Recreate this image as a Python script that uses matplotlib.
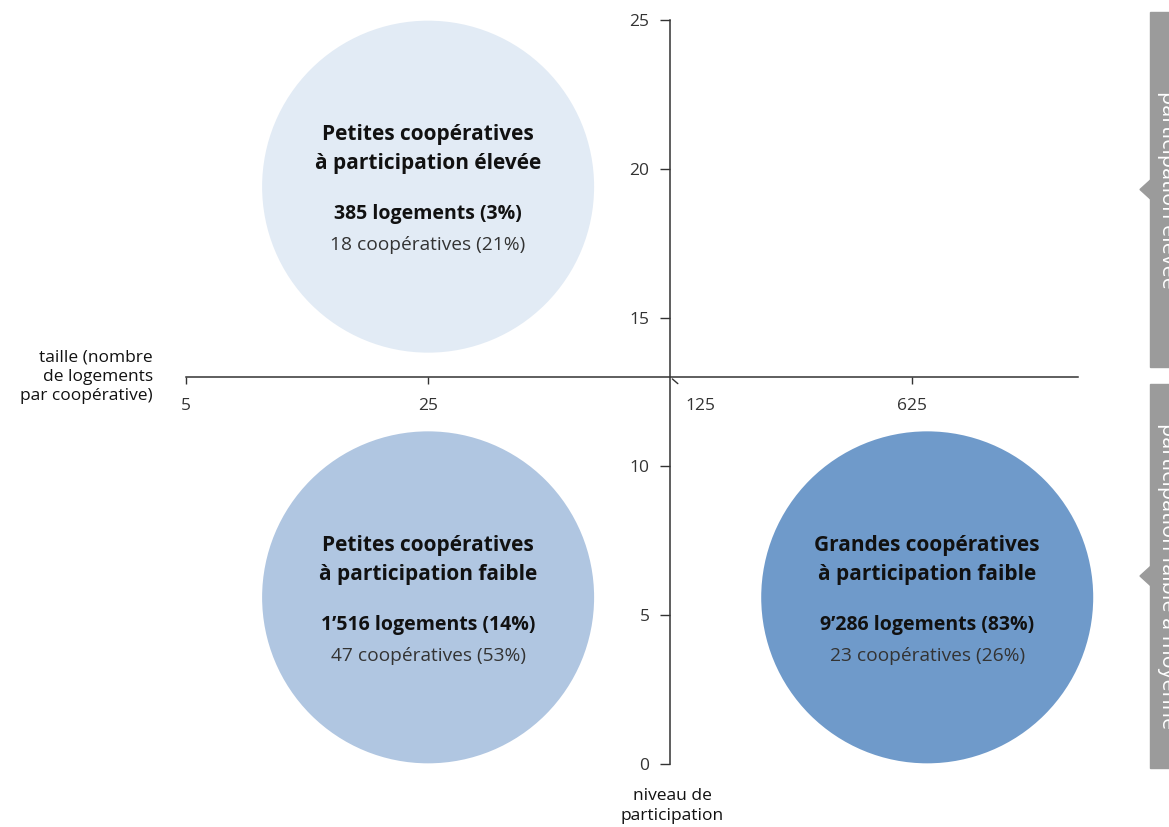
import numpy as np
import matplotlib.pyplot as plt
from matplotlib.patches import Rectangle, Polygon

plt.rcParams['font.family'] = ['Open Sans', 'DejaVu Sans']

# ------------------------------------------------------------- data
GROUP_TITLES = ["Petites coopératives\nà participation élevée",
                "Petites coopératives\nà participation faible",
                "Grandes coopératives\nà participation faible"]
GROUP_SIZE = [25, 25, 690]          # logements par coopérative (x, log5)
GROUP_PART = [19.4, 5.6, 5.6]       # niveau de participation (y)
GROUP_LOGEMENTS = ["385 logements (3%)", "1’516 logements (14%)",
                   "9’286 logements (83%)"]
GROUP_COOPS = ["18 coopératives (21%)", "47 coopératives (53%)",
               "23 coopératives (26%)"]
GROUP_COLORS = ["#e2ebf5", "#b0c6e1", "#6f9aca"]

X_TICKS = [5, 25, 125, 625]
Y_TICKS = [0, 5, 10, 15, 20, 25]
TAB_LABELS = ["participation élevée", "participation faible à moyenne"]

W, H, DPI = 1169, 827, 100
AX_COL = "#333333"

fig = plt.figure(figsize=(W / DPI, H / DPI), dpi=DPI)
ax = fig.add_axes([186 / W, 63 / H, 892 / W, 744 / H])
ax.set_xscale("log", base=5)
ax.set_xlim(5, 1880)
ax.set_ylim(0, 25)

# circles (radius ~166 px)
r_pt = 166 * 72 / DPI
ax.scatter(GROUP_SIZE, GROUP_PART, s=(2 * r_pt) ** 2, c=GROUP_COLORS,
           edgecolors="none", zorder=1, clip_on=False)
for x, y, t, lg, cp in zip(GROUP_SIZE, GROUP_PART, GROUP_TITLES,
                           GROUP_LOGEMENTS, GROUP_COOPS):
    ax.annotate(t, (x, y), xytext=(0, 27), textcoords="offset points",
                ha="center", va="center", fontsize=15, fontweight="bold",
                color="#111111", linespacing=1.5, zorder=3)
    ax.annotate(lg, (x, y), xytext=(0, -20), textcoords="offset points",
                ha="center", va="center", fontsize=14, fontweight="bold",
                color="#111111", zorder=3)
    ax.annotate(cp, (x, y), xytext=(0, -42), textcoords="offset points",
                ha="center", va="center", fontsize=13.8, color="#333333",
                zorder=3)

# axes through the middle
for s in ["top", "right"]:
    ax.spines[s].set_visible(False)
ax.spines["left"].set_position(("data", 125))
ax.spines["bottom"].set_position(("data", 13))
for s in ["left", "bottom"]:
    ax.spines[s].set_color(AX_COL)
    ax.spines[s].set_linewidth(1.1)
    ax.spines[s].set_zorder(2)

ax.set_yticks(Y_TICKS)
ax.set_yticks([0, 25], minor=True)
ax.tick_params(axis="y", which="major", direction="out", length=7,
               width=1.0, color=AX_COL, labelsize=12.5, labelcolor="#333333",
               pad=8)
ax.tick_params(axis="y", which="minor", direction="in", length=5,
               width=1.0, color=AX_COL)

xt = [v for v in X_TICKS if v != 125]
ax.set_xticks(xt)
ax.set_xticklabels([str(v) for v in xt])
ax.xaxis.set_minor_locator(plt.NullLocator())
ax.tick_params(axis="x", which="major", direction="out", length=5,
               width=1.0, color=AX_COL, labelsize=12.5, labelcolor="#333333",
               pad=10)
# the 125 tick sits on the vertical axis: label offset to the right
ax.annotate("125", (125, 13), xytext=(22, -15), textcoords="offset points",
            ha="center", va="top", fontsize=12.5, color="#333333")
ax.annotate("", (125, 13), xytext=(7, -6), textcoords="offset points",
            arrowprops=dict(arrowstyle="-", color=AX_COL, lw=1.0))

# axis titles
fig.text(153 / W, 1 - 377 / H, "taille (nombre\nde logements\npar coopérative)",
         ha="right", va="center", fontsize=12.5, color="#111111",
         linespacing=1.25)
fig.text(672 / W, 1 - 806 / H, "niveau de\nparticipation", ha="center",
         va="center", fontsize=12.5, color="#111111", linespacing=1.25)

# grey side tabs (text runs off the right edge, as in the source)
tab_spans = [(12, 367), (384, 768)]
for (y0, y1), lab in zip(tab_spans, TAB_LABELS):
    fig.patches.append(Rectangle((1150 / W, 1 - y1 / H), 30 / W, (y1 - y0) / H,
                                 transform=fig.transFigure, color="#9b9b9b",
                                 zorder=0))
    yc = (y0 + y1) / 2
    fig.patches.append(Polygon([(1140 / W, 1 - yc / H),
                                (1151 / W, 1 - (yc - 10) / H),
                                (1151 / W, 1 - (yc + 10) / H)],
                               closed=True, transform=fig.transFigure,
                               color="#9b9b9b", zorder=0))
    fig.text(1157 / W, 1 - yc / H, lab, rotation=-90, ha="left", va="center",
             fontsize=15.5, color="white")

fig.savefig("out.png", dpi=DPI)
